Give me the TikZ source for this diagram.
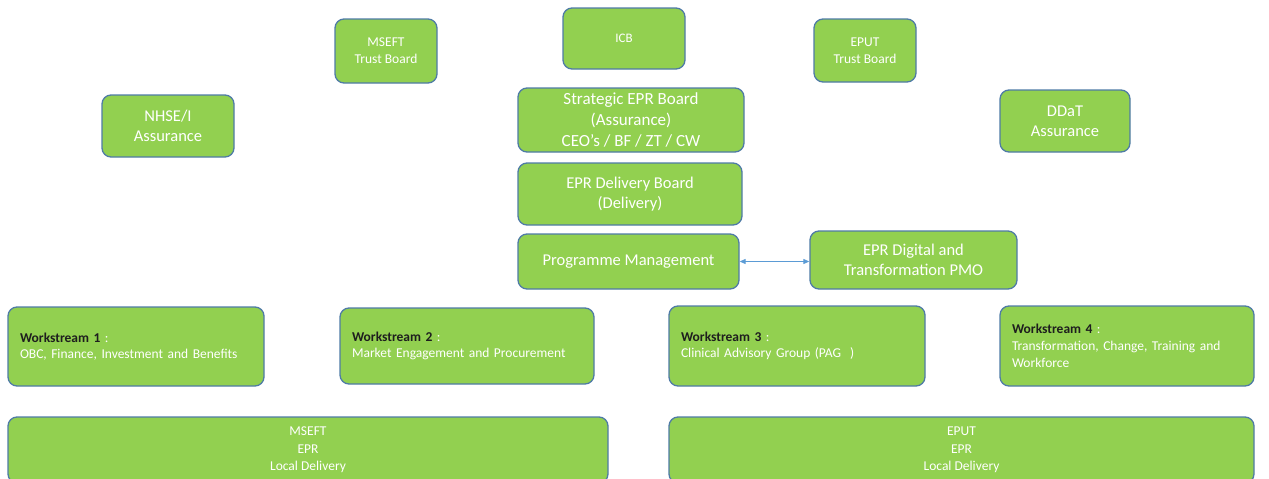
\documentclass[tikz,border=0pt]{standalone}
\usepackage{fontspec}
\setmainfont{Carlito}
\usetikzlibrary{arrows.meta}
\definecolor{boxgreen}{HTML}{92D050}
\definecolor{boxedge}{HTML}{4F7BA6}
\definecolor{arrowblue}{HTML}{5B9BD5}
\definecolor{titledark}{HTML}{1E1E1E}
\tikzset{
  box/.style={draw=boxedge, line width=1.3pt, fill=boxgreen, rounded corners=9pt,
    text=white, align=center, inner sep=0pt},
  wsbox/.style={box, align=left, text width=#1},
  fs/.style={font=\fontsize{#1}{#1*1.25}\selectfont},
}
\newcommand{\wstitle}[1]{{\bfseries\color{titledark}#1}}
\begin{document}
\begin{tikzpicture}[x=1pt,y=-1pt]
\useasboundingbox (0,0) rectangle (1269,479);
\clip (0,0) rectangle (1269,479);
% top row
\node[box, minimum width=102, minimum height=64, font=\fontsize{13.5}{17}\selectfont] (mseftb) at (386,51) {MSEFT\\Trust Board};
\node[box, minimum width=122, minimum height=61, font=\fontsize{13}{17}\selectfont] (icb) at (624,38.5) {ICB};
\node[box, minimum width=102, minimum height=63, font=\fontsize{13.5}{17}\selectfont] (eputb) at (865,50.5) {EPUT\\Trust Board};
% assurance row
\node[box, minimum width=132, minimum height=62, font=\fontsize{16.5}{20}\selectfont] (nhse) at (168,126) {NHSE/I\\Assurance};
\node[box, minimum width=226, minimum height=64, font=\fontsize{17}{21}\selectfont] (strat) at (631,120) {Strategic EPR Board\\(Assurance)\\CEO’s / BF / ZT / CW};
\node[box, minimum width=130, minimum height=62, font=\fontsize{16.5}{20}\selectfont] (ddat) at (1065,121) {DDaT\\Assurance};
% delivery
\node[box, minimum width=224, minimum height=62, font=\fontsize{16.5}{20}\selectfont] (deliv) at (630,194) {EPR Delivery Board\\(Delivery)};
\node[box, minimum width=221, minimum height=55, font=\fontsize{16.5}{20}\selectfont] (progm) at (628.5,261.5) {Programme Management};
\node[box, minimum width=207, minimum height=58, font=\fontsize{16.5}{20}\selectfont] (pmo) at (913.5,260) {EPR Digital and\\Transformation PMO};
\draw[arrowblue, line width=0.9pt, {Triangle[length=6pt,width=5pt]}-{Triangle[length=6pt,width=5pt]}]
  (progm.east) -- (progm.east -| pmo.west);
% workstreams
\node[wsbox=232, minimum width=256, minimum height=79, font=\fontsize{13.5}{16.5}\selectfont] (ws1) at (136,346.5)
  {\wstitle{Workstream 1} :\\OBC, Finance, Investment and Benefits};
\node[wsbox=230, minimum width=254, minimum height=76, font=\fontsize{13.5}{16.5}\selectfont] (ws2) at (467,346)
  {\wstitle{Workstream 2} :\\Market Engagement and Procurement};
\node[wsbox=232, minimum width=256, minimum height=80, font=\fontsize{13.5}{16.5}\selectfont] (ws3) at (797,346)
  {\wstitle{Workstream 3} :\\Clinical Advisory Group (PAG~ )};
\node[wsbox=230, minimum width=254, minimum height=80, font=\fontsize{13.5}{17}\selectfont] (ws4) at (1127,346)
  {\wstitle{Workstream 4} :\\Transformation, Change, Training and Workforce};
% local delivery
\node[box, minimum width=600, minimum height=66, font=\fontsize{13.5}{17.5}\selectfont] (mloc) at (308,450) {MSEFT\\EPR\\Local Delivery};
\node[box, minimum width=585, minimum height=66, font=\fontsize{13.5}{17.5}\selectfont] (eloc) at (961.5,450) {EPUT\\EPR\\Local Delivery};
\end{tikzpicture}
\end{document}
